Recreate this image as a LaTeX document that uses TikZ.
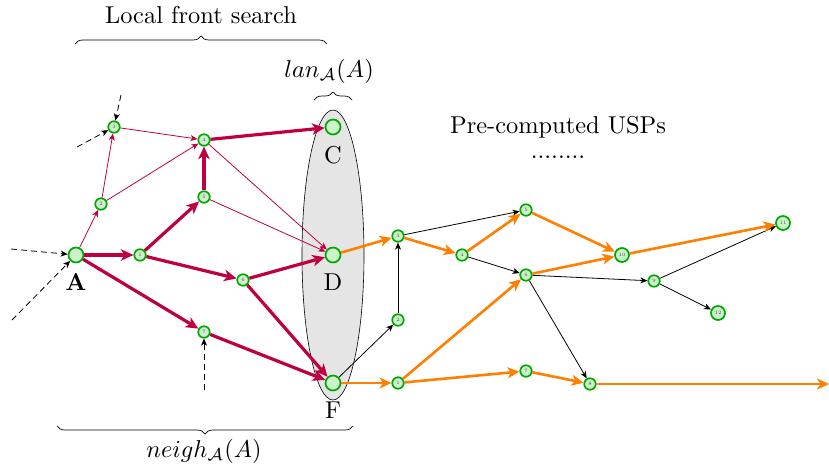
\documentclass[tikz,border=0pt]{standalone}
\usepackage{graphicx}
\usetikzlibrary{arrows.meta,shapes.geometric,decorations.pathreplacing}
\definecolor{ring}{RGB}{0,168,0}
\definecolor{ringfill}{RGB}{205,240,205}
\definecolor{pathred}{RGB}{190,0,64}
\definecolor{usp}{RGB}{255,128,0}
% labels are set at 10pt and enlarged as a whole
\newcommand{\enlarged}[1]{\scalebox{2.44}{#1}}
\begin{document}
\begin{tikzpicture}[x=1pt,y=-1pt,
  vtx/.style={circle,draw=ring,fill=ringfill,line width=1.7pt,minimum size=11.5pt,
    inner sep=0pt,font=\fontsize{5}{5}\selectfont,text=black!70},
  midvtx/.style={vtx,minimum size=14pt},
  bigvtx/.style={vtx,minimum size=15pt},
  bigtext/.style={font=\normalsize,inner sep=0pt},
  fatred/.style={draw=pathred,line width=3.2pt,-{Stealth[length=12.5pt,width=11.5pt,inset=3.5pt]}},
  thinred/.style={draw=pathred,line width=0.8pt,-{Stealth[length=7pt,width=6pt,inset=2pt]}},
  fatorange/.style={draw=usp,line width=2.6pt,-{Stealth[length=12pt,width=11pt,inset=3.5pt]}},
  thinblack/.style={draw=black,line width=0.8pt,-{Stealth[length=7pt,width=6pt,inset=2pt]}},
  incoming/.style={draw=black,line width=0.8pt,dash pattern=on 6pt off 4pt,
    -{Stealth[length=7pt,width=6pt,inset=2pt]}},
  bracestyle/.style={draw=black,line width=0.7pt,decorate,decoration={brace,amplitude=8pt}}
]
\useasboundingbox (0,0) rectangle (829,468);

% landmark set around C, D, F
\node[ellipse,draw=black,line width=0.6pt,fill=gray!20,minimum width=62pt,minimum height=290pt] (lan) at (333,255) {};

% local search graph
\node[bigvtx] (A) at (76,255) {};
\node[vtx] (l1) at (140,255) {1};
\node[vtx] (l2) at (101,204) {2};
\node[vtx] (l3) at (114,127) {3};
\node[vtx] (l4) at (204,140) {4};
\node[vtx] (l5) at (204,197) {5};
\node[vtx] (l6) at (243,280) {6};
\node[vtx] (l7) at (204,332) {7};
\node[bigvtx] (C) at (333,127) {};
\node[bigvtx] (D) at (333,255) {};
\node[bigvtx] (F) at (333,383) {};

\node[bigtext] (labA) at (76,282) {\enlarged{\textbf{A}}};
\node[bigtext] (labC) at (333,155) {\enlarged{C}};
\node[bigtext] (labD) at (333,282) {\enlarged{D}};
\node[bigtext] (labF) at (333,410) {\enlarged{F}};

% pre-computed graph
\node[vtx] (r1) at (398,383) {1};
\node[vtx] (r2) at (398,320) {2};
\node[vtx] (r3) at (398,236) {3};
\node[vtx] (r4) at (462,255) {4};
\node[vtx] (r5) at (526,210) {5};
\node[vtx] (r6) at (526,275) {6};
\node[vtx] (r7) at (526,371) {7};
\node[vtx] (r8) at (590,384) {8};
\node[vtx] (r9) at (654,281) {9};
\node[midvtx] (r10) at (622,255) {10};
\node[midvtx] (r11) at (783,223) {11};
\node[midvtx] (r12) at (718,313) {12};
\coordinate (out) at (829,384);

% dashed entries from outside
\coordinate (in1) at (121,95);
\coordinate (in2) at (77,147);
\coordinate (in3) at (11,249);
\coordinate (in4) at (12,320);
\coordinate (in5) at (204,390);
\draw[incoming] (in1) -- (l3);
\draw[incoming] (in2) -- (l3);
\draw[incoming] (in3) -- (A);
\draw[incoming] (in4) -- (A);
\draw[incoming] (in5) -- (l7);

% thin search edges
\draw[thinred] (A) -- (l2);
\draw[thinred] (l2) -- (l3);
\draw[thinred] (l3) -- (l4);
\draw[thinred] (l2) -- (l4);
\draw[thinred] (l4) -- (D);
\draw[thinred] (l5) -- (D);

% search tree
\draw[fatred] (A) -- (l1);
\draw[fatred] (l1) -- (l5);
\draw[fatred] (l5) -- (l4);
\draw[fatred] (l4) -- (C);
\draw[fatred] (l1) -- (l6);
\draw[fatred] (l6) -- (D);
\draw[fatred] (A) -- (l7);
\draw[fatred] (l7) -- (F);
\draw[fatred] (l6) -- (F);

% pre-computed shortest paths
\draw[thinblack] (F) -- (r2);
\draw[thinblack] (r2) -- (r3);
\draw[thinblack] (r3) -- (r5);
\draw[thinblack] (r4) -- (r6);
\draw[thinblack] (r6) -- (r9);
\draw[thinblack] (r6) -- (r8);
\draw[thinblack] (r9) -- (r11);
\draw[thinblack] (r9) -- (r12);

\draw[fatorange] (D) -- (r3);
\draw[fatorange] (r3) -- (r4);
\draw[fatorange] (r4) -- (r5);
\draw[fatorange] (r5) -- (r10);
\draw[fatorange] (r6) -- (r10);
\draw[fatorange] (r10) -- (r11);
\draw[fatorange] (F) -- (r1);
\draw[fatorange] (r1) -- (r6);
\draw[fatorange] (r1) -- (r7);
\draw[fatorange] (r7) -- (r8);
\draw[fatorange] (r8) -- (out);

% braces and captions
\draw[bracestyle] (75,44) -- (327,44);
\node[bigtext] (search) at (201,15) {\enlarged{Local front search}};
\draw[bracestyle] (314,100) -- (352,100);
\node[bigtext] (lanlab) at (329,71) {\enlarged{$lan_{\mathcal{A}}(A)$}};
\draw[bracestyle] (353,426) -- (57,426);
\node[bigtext] (neighlab) at (204,451) {\enlarged{$neigh_{\mathcal{A}}(A)$}};
\node[bigtext] (usps) at (558,127) {\enlarged{Pre-computed USPs}};
\node[bigtext] (dots) at (558,157) {\enlarged{........}};
\end{tikzpicture}
\end{document}
